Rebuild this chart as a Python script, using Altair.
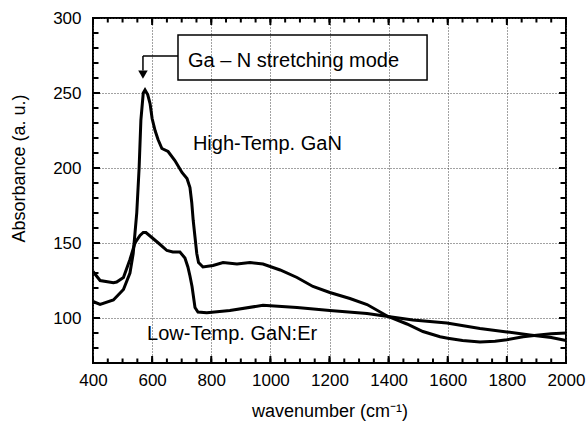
import altair as alt
import pandas as pd

# High-Temp. GaN spectrum (wavenumber cm^-1, absorbance a.u.)
ht_x = [400, 424, 469, 503, 525, 536, 548, 556, 562, 570, 576, 585, 593, 600, 610, 620, 633, 654,
        677, 701, 718, 728, 734, 739, 745, 751, 757, 772, 806, 840, 887, 931, 975, 1033, 1090,
        1144, 1201, 1269, 1327, 1398, 1462, 1516, 1574, 1600, 1650, 1709, 1760, 1800, 1855,
        1900, 1950, 2000]
ht_y = [111, 109, 112, 119, 130, 143, 170, 200, 232, 250, 252, 249, 243, 233, 225, 219, 213, 211,
        205, 197, 193, 187, 177, 165, 154, 143, 137, 134, 135, 137, 136, 137, 136, 132, 127,
        121, 117, 113, 109, 101, 96, 91, 87.5, 86.5, 85, 84, 84.5, 85.5, 87.5,
        88.5, 89.5, 90]

# Low-Temp. GaN:Er spectrum
lt_x = [400, 424, 469, 480, 503, 525, 542, 559, 570, 579, 603, 627, 650, 670, 694, 711, 721, 728,
        735, 745, 755, 785, 863, 975, 1090, 1201, 1327, 1398, 1482, 1597, 1709, 1800, 1878,
        1950, 2000]
lt_y = [131, 125, 123.5, 124, 127, 139, 150, 155, 157, 157, 153, 149, 145, 144, 144, 140, 134, 128,
        121, 107, 104, 103.5, 105, 108.5, 107, 105, 103, 101, 98.7, 96.7, 93, 90.7, 88.7,
        87, 85]

series_names = ["High-Temp. GaN", "Low-Temp. GaN:Er"]

x_major = list(range(400, 2001, 200))
x_minor = list(range(450, 2001, 50))
y_major = list(range(100, 301, 50))
y_minor = list(range(80, 301, 10))

W, H = 473, 345
X0, X1, Y0, Y1 = 400, 2000, 70, 300
PX_X = (X1 - X0) / W   # data units per pixel
PX_Y = (Y1 - Y0) / H
X_MJ, X_MN, Y_MJ, Y_MN = 7, 4.5, 7, 5.5

df = pd.concat([
    pd.DataFrame({"wn": ht_x, "ab": ht_y, "series": series_names[0]}),
    pd.DataFrame({"wn": lt_x, "ab": lt_y, "series": series_names[1]}),
])

# inward tick segments built from the tick value lists
rows = []
for vals, ln in ((x_minor, X_MN), (x_major, X_MJ)):
    for v in vals:
        rows.append({"tx": v, "tx2": v, "ty": Y0, "ty2": Y0 + ln * PX_Y})
        rows.append({"tx": v, "tx2": v, "ty": Y1, "ty2": Y1 - ln * PX_Y})
for vals, ln in ((y_minor, Y_MN), (y_major, Y_MJ)):
    for v in vals:
        rows.append({"tx": X0, "tx2": X0 + ln * PX_X, "ty": v, "ty2": v})
        rows.append({"tx": X1, "tx2": X1 - ln * PX_X, "ty": v, "ty2": v})
tick_df = pd.DataFrame(rows)

FONT = "Liberation Sans"
xs = alt.Scale(domain=[X0, X1], nice=False, zero=False)
ys = alt.Scale(domain=[Y0, Y1], nice=False, zero=False)

main_x = alt.Axis(orient="bottom", values=x_major, format="d", ticks=False, grid=True,
                  gridDash=[1, 2], gridColor="#444", gridWidth=1, domain=False,
                  labelPadding=9, labelFontSize=17, labelFlush=False, labelOverlap=False,
                  title="wavenumber (cm\u207b\u00b9)", titleFontSize=18, titleFontWeight="normal",
                  titleY=48, titleBaseline="middle")
main_y = alt.Axis(orient="left", values=y_major, format="d", ticks=False, grid=True,
                  gridDash=[1, 2], gridColor="#444", gridWidth=1, domain=False,
                  labelPadding=12, labelFontSize=17, labelFlush=False, labelOverlap=False,
                  title="Absorbance (a. u.)", titleFontSize=18, titleFontWeight="normal",
                  titleX=-74, titleY=150, titleBaseline="middle")

lines = alt.Chart(df).mark_line(color="black", strokeWidth=3).encode(
    x=alt.X("wn:Q", scale=xs, axis=main_x),
    y=alt.Y("ab:Q", scale=ys, axis=main_y),
    detail="series:N",
)

ticks = alt.Chart(tick_df).mark_rule(color="black", strokeWidth=2, opacity=1).encode(
    x=alt.X("tx:Q", scale=xs),
    x2="tx2:Q",
    y=alt.Y("ty:Q", scale=ys),
    y2="ty2:Q",
)

base = alt.Chart(pd.DataFrame({"k": [0]}))


def txt(label, x, y):
    return base.mark_text(text=label, font=FONT, fontSize=20, align="left",
                          baseline="alphabetic", color="black").encode(
        x=alt.XDatum(x, type="quantitative", scale=xs),
        y=alt.YDatum(y, type="quantitative", scale=ys),
    )


t_high = txt(series_names[0], 738, 212)
t_low = txt(series_names[1], 583, 85.3)
t_mode = txt("Ga \u2013 N  stretching mode", 721, 267.3)

box = base.mark_rect(filled=False, stroke="black", strokeWidth=1.5).encode(
    x=alt.XDatum(687.5, type="quantitative", scale=xs),
    x2=alt.X2Datum(1530),
    y=alt.YDatum(258.7, type="quantitative", scale=ys),
    y2=alt.Y2Datum(288.7),
)
conn_h = base.mark_rule(color="black", strokeWidth=1.5).encode(
    x=alt.XDatum(569, type="quantitative", scale=xs),
    x2=alt.X2Datum(687.5),
    y=alt.YDatum(274.7, type="quantitative", scale=ys),
)
conn_v = base.mark_rule(color="black", strokeWidth=1.5).encode(
    x=alt.XDatum(569, type="quantitative", scale=xs),
    y=alt.YDatum(274.7, type="quantitative", scale=ys),
    y2=alt.Y2Datum(265),
)
arrow = base.mark_point(shape="triangle-down", filled=True, color="black", size=90,
                        opacity=1).encode(
    x=alt.XDatum(569, type="quantitative", scale=xs),
    y=alt.YDatum(262.3, type="quantitative", scale=ys),
)

chart = alt.layer(
    ticks, lines, box, conn_h, conn_v, arrow, t_mode, t_high, t_low
).properties(
    width=W, height=H,
    autosize=alt.AutoSizeParams(type="none"),
    padding={"left": 93, "top": 18, "right": 22, "bottom": 65},
    background="white",
).configure_view(
    stroke="black", strokeWidth=2
).configure_axis(
    labelFont=FONT, titleFont=FONT, labelColor="black", titleColor="black"
)

chart.save("out.html", embed_options={"renderer": "svg", "actions": False})
